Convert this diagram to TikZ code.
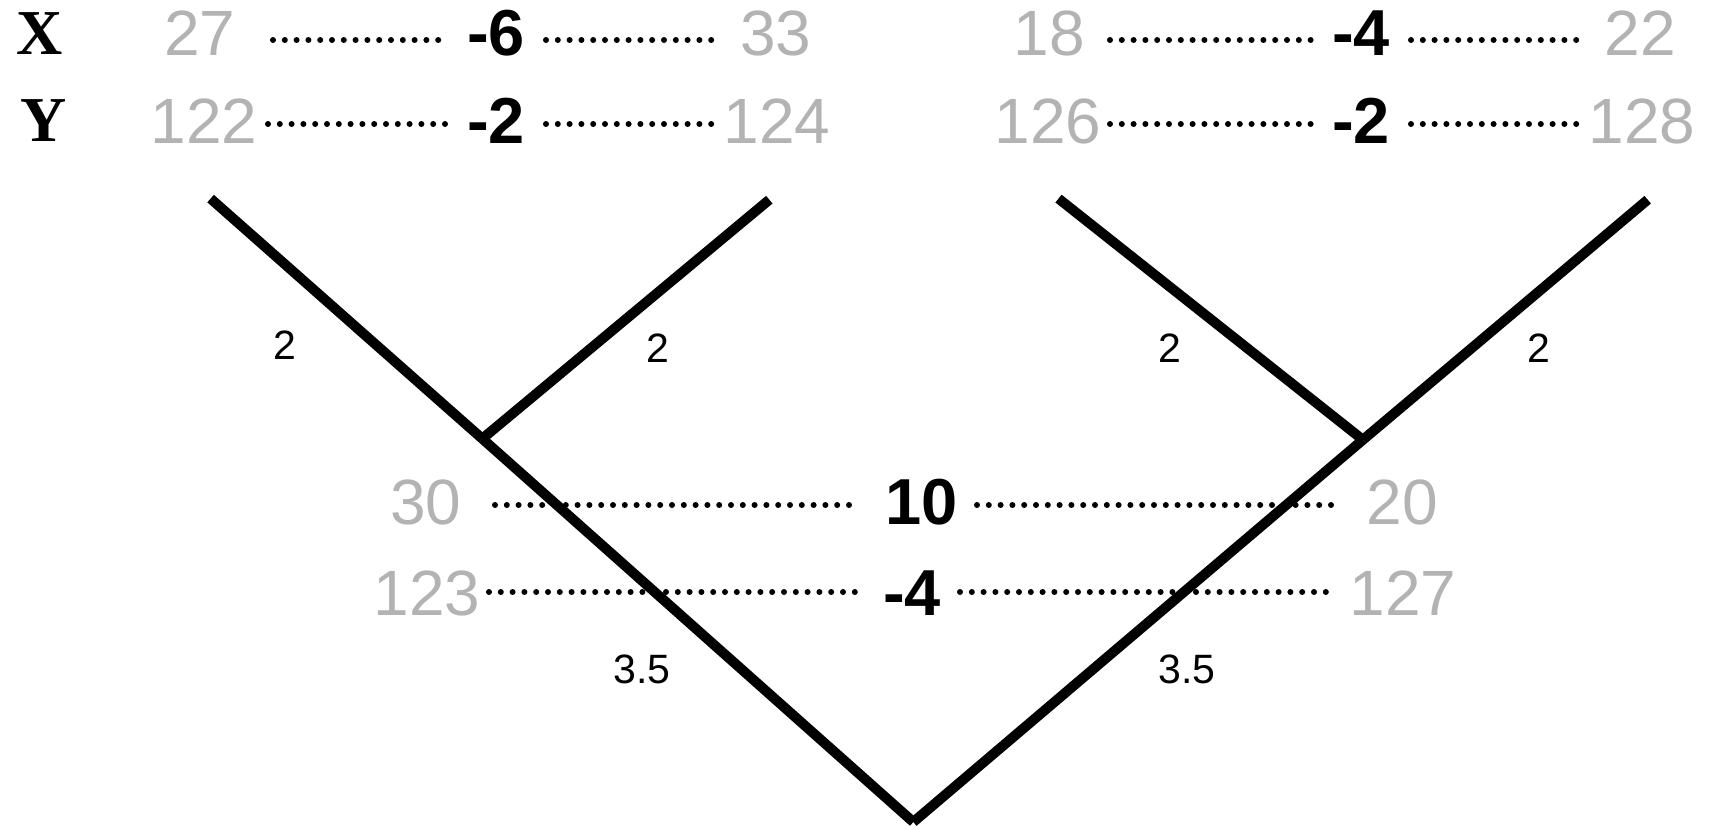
\documentclass[tikz,border=0pt]{standalone}
\usepackage{fontspec}
\setmainfont{Liberation Sans}
\newfontfamily\axisfont{Liberation Serif}
\definecolor{numgray}{RGB}{179,179,179}
\begin{document}
\begin{tikzpicture}[x=1pt,y=-1pt,
 big/.style={font=\fontsize{64}{64}\selectfont, text=numgray, inner sep=0pt},
 bigbold/.style={font=\fontsize{65}{65}\selectfont\bfseries, inner sep=0pt},
 axislabel/.style={font=\fontsize{64}{64}\selectfont\axisfont\bfseries, inner sep=0pt},
 small/.style={font=\fontsize{41}{41}\selectfont, inner sep=0pt},
 dotline/.style={line width=6pt, line cap=round, dash pattern=on 0pt off 11.8pt},
 branch/.style={line width=10pt}]
\useasboundingbox (0,0) rectangle (1711,828);
% axis labels
\node[axislabel] (X) at (40,34) {X};
\node[axislabel] (Y) at (43.5,121) {Y};
% top-left pair
\node[big] (a27) at (200,33.5) {27};
\node[bigbold] (am6) at (496,33.5) {-6};
\node[big] (a33) at (776,33.5) {33};
\node[big] (a122) at (204,121) {122};
\node[bigbold] (am2) at (496,121) {-2};
\node[big] (a124) at (777,121) {124};
% top-right pair
\node[big] (b18) at (1049,33.5) {18};
\node[bigbold] (bm4) at (1361,33.5) {-4};
\node[big] (b22) at (1640,33.5) {22};
\node[big] (b126) at (1048,121) {126};
\node[bigbold] (bm2) at (1361,121) {-2};
\node[big] (b128) at (1642,121) {128};
% middle
\node[big] (c30) at (426,502) {30};
\node[bigbold] (c10) at (921.5,502) {10};
\node[big] (c20) at (1402,502) {20};
\node[big] (c123) at (427,593) {123};
\node[bigbold] (cm4) at (912,593) {-4};
\node[big] (c127) at (1403,593) {127};
% dotted line ends
\coordinate (d1a) at (273,40); \coordinate (d1b) at (445,40);
\coordinate (d1c) at (546,40); \coordinate (d1d) at (720,40);
\coordinate (d2a) at (268,124); \coordinate (d2b) at (447,124);
\coordinate (d2c) at (546,124); \coordinate (d2d) at (717,124);
\coordinate (d3a) at (1110,40); \coordinate (d3b) at (1313,40);
\coordinate (d3c) at (1411,40); \coordinate (d3d) at (1582,40);
\coordinate (d4a) at (1110,124); \coordinate (d4b) at (1313,124);
\coordinate (d4c) at (1411,124); \coordinate (d4d) at (1582,124);
\coordinate (d5a) at (495,505); \coordinate (d5b) at (858,505);
\coordinate (d5c) at (977,505); \coordinate (d5d) at (1341,505);
\coordinate (d6a) at (489,592); \coordinate (d6b) at (865,592);
\coordinate (d6c) at (960,592); \coordinate (d6d) at (1336,592);
\foreach \s/\e in {d1a/d1b,d1c/d1d,d2a/d2b,d2c/d2d,d3a/d3b,d3c/d3d,d4a/d4b,d4c/d4d,d5a/d5b,d5c/d5d,d6a/d6b,d6c/d6d}
  \draw[dotline] (\s) -- (\e);
% tree
\coordinate (L1) at (210.6,198.6);
\coordinate (L2) at (769.3,199.7);
\coordinate (J1) at (482.3,438.7);
\coordinate (L3) at (1058.5,198.6);
\coordinate (L4) at (1647.7,199.7);
\coordinate (J2) at (1362.9,439.8);
\coordinate (R) at (913.3,822);
\draw[branch] (L1) -- (J1);
\draw[branch] (J1) -- (R);
\draw[branch] (L2) -- (J1);
\draw[branch] (L3) -- (J2);
\draw[branch] (L4) -- (J2);
\draw[branch] (J2) -- (R);
% branch lengths
\node[small] (e1) at (285,345) {2};
\node[small] (e2) at (658,348) {2};
\node[small] (e3) at (1170,348) {2};
\node[small] (e4) at (1539,348) {2};
\node[small] (e5) at (642,669) {3.5};
\node[small] (e6) at (1187,669) {3.5};
\end{tikzpicture}
\end{document}
